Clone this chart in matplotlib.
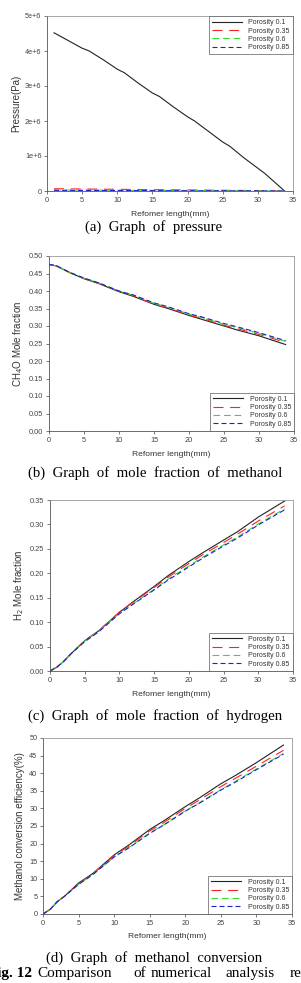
import matplotlib.pyplot as plt

# (a) pressure
x_a = [1, 3, 5, 6, 8, 10, 11, 13, 15, 16, 18, 20, 21, 23, 25, 26, 28, 30, 31, 33.8]
p_a_01 = [4.52, 4.30, 4.08, 4.00, 3.75, 3.48, 3.38, 3.08, 2.80, 2.70, 2.40, 2.12, 2.00,
          1.70, 1.40, 1.28, 0.95, 0.65, 0.50, 0.0]
x_a_low = [1, 10, 20, 30, 33.8]
p_a_035 = [0.065, 0.048, 0.030, 0.012, 0.0]
p_a_06 = [0.030, 0.022, 0.014, 0.006, 0.0]
p_a_085 = [0.018, 0.013, 0.008, 0.004, 0.0]

# (b) methanol mole fraction
x_b = [0, 1, 3, 5, 7, 10, 12, 15, 17, 20, 22, 25, 27, 30, 33.8]
ch4o_01 = [0.475, 0.472, 0.452, 0.435, 0.422, 0.398, 0.385, 0.362, 0.350, 0.330, 0.318, 0.300, 0.288, 0.272, 0.247]
ch4o_035 = [0.475, 0.472, 0.452, 0.436, 0.423, 0.399, 0.387, 0.362, 0.352, 0.331, 0.321, 0.302, 0.292, 0.276, 0.253]
ch4o_06 = [0.475, 0.472, 0.453, 0.436, 0.424, 0.400, 0.388, 0.365, 0.354, 0.334, 0.323, 0.305, 0.295, 0.279, 0.256]
ch4o_085 = [0.476, 0.473, 0.453, 0.437, 0.424, 0.400, 0.389, 0.366, 0.355, 0.335, 0.325, 0.307, 0.297, 0.281, 0.258]

# (c) hydrogen mole fraction
x_c = [0, 1, 2, 3, 5, 7, 10, 12, 15, 17, 20, 22, 25, 27, 30, 33.8]
h2_01 = [0, 0.008, 0.020, 0.035, 0.062, 0.082, 0.120, 0.142, 0.173, 0.195, 0.224, 0.242, 0.268, 0.285, 0.315, 0.348]
h2_035 = [0, 0.008, 0.020, 0.035, 0.062, 0.082, 0.121, 0.141, 0.171, 0.192, 0.220, 0.238, 0.263, 0.280, 0.307, 0.338]
h2_06 = [0, 0.008, 0.020, 0.035, 0.061, 0.081, 0.118, 0.138, 0.167, 0.188, 0.215, 0.233, 0.258, 0.274, 0.301, 0.332]
h2_085 = [0, 0.008, 0.020, 0.035, 0.060, 0.080, 0.117, 0.137, 0.166, 0.186, 0.213, 0.231, 0.256, 0.272, 0.299, 0.330]

# (d) methanol conversion
x_d = [0, 1, 2, 3, 5, 7, 10, 12, 15, 17, 20, 22, 25, 27, 30, 33.8]
conv_01 = [0, 1.3, 3.5, 5.0, 8.8, 11.5, 16.8, 19.5, 24.0, 26.5, 30.5, 33.0, 37.0, 39.3, 43.0, 48.0]
conv_035 = [0, 1.3, 3.5, 5.0, 8.6, 11.4, 16.6, 19.2, 23.6, 26.0, 30.0, 32.4, 36.2, 38.5, 42.0, 46.5]
conv_06 = [0, 1.3, 3.5, 5.0, 8.4, 11.2, 16.2, 18.8, 23.0, 25.4, 29.3, 31.6, 35.3, 37.6, 41.2, 45.6]
conv_085 = [0, 1.3, 3.5, 5.0, 8.4, 11.2, 16.2, 18.7, 22.9, 25.3, 29.2, 31.5, 35.2, 37.4, 41.0, 45.4]

labels = ["Porosity 0.1", "Porosity 0.35", "Porosity 0.6", "Porosity 0.85"]
colors = ["#222222", "#ff2020", "#30dd30", "#2020cc"]
dashes = [None, (9, 6), (6, 3.5), (4.5, 2.7)]

W, H = 301, 983
fig = plt.figure(figsize=(W / 100, H / 100), dpi=100)
plt.rcParams['font.family'] = ['Liberation Sans', 'DejaVu Sans']


def make_axes(left, right, top, bottom):
    return fig.add_axes([left / W, 1 - bottom / H, (right - left) / W, (bottom - top) / H])


def style(ax, ylabel, yticks, yticklabels, legend_loc):
    ax.set_xlim(0, 35)
    ax.set_xticks(range(0, 36, 5))
    ax.set_yticks(yticks)
    ax.set_yticklabels(yticklabels)
    ax.set_ylim(yticks[0], yticks[-1])
    ax.tick_params(labelsize=5.3, length=2, width=0.5, colors="#444444", pad=2)
    for side, s in ax.spines.items():
        s.set_linewidth(0.6)
        s.set_color("#555555" if side in ("left", "bottom") else "#999999")
    ax.set_xlabel("Refomer length(mm)", fontsize=6.1, labelpad=5, color="#333333")
    ax.set_ylabel(ylabel, fontsize=7, labelpad=3, color="#333333")
    leg = ax.legend(loc=legend_loc, fontsize=5, handlelength=4.3, frameon=True,
                    fancybox=False, borderpad=0.45, labelspacing=0.2, handletextpad=0.9,
                    borderaxespad=0.0)
    leg.get_frame().set_edgecolor("#555555")
    leg.get_frame().set_linewidth(0.6)
    for t in leg.get_texts():
        t.set_color("#333333")


def plot_series(ax, xs, ys):
    for x, y, lab, c, d in zip(xs, ys, labels, colors, dashes):
        line, = ax.plot(x, y, color=c, lw=0.8, label=lab)
        if d is not None:
            line.set_dashes(d)


# (a)
ax = make_axes(47, 293, 16, 191)
plot_series(ax, [x_a, x_a_low, x_a_low, x_a_low],
            [[v * 1e6 for v in p_a_01], [v * 1e6 for v in p_a_035],
             [v * 1e6 for v in p_a_06], [v * 1e6 for v in p_a_085]])
style(ax, "Pressure(Pa)", [0, 1e6, 2e6, 3e6, 4e6, 5e6],
      ["0", "1e+6", "2e+6", "3e+6", "4e+6", "5e+6"], "upper right")

# (b)
ax = make_axes(49, 294, 256, 431)
plot_series(ax, [x_b] * 4, [ch4o_01, ch4o_035, ch4o_06, ch4o_085])
yt = [i * 0.05 for i in range(11)]
style(ax, "CH$_4$O Mole fraction", yt, ["%.2f" % v for v in yt], "lower right")

# (c)
ax = make_axes(50, 293, 500, 671)
plot_series(ax, [x_c] * 4, [h2_01, h2_035, h2_06, h2_085])
yt = [i * 0.05 for i in range(8)]
style(ax, "H$_2$ Mole fraction", yt, ["%.2f" % v for v in yt], "lower right")

# (d)
ax = make_axes(43, 292, 738, 914)
plot_series(ax, [x_d] * 4, [conv_01, conv_035, conv_06, conv_085])
yt = list(range(0, 51, 5))
style(ax, "Methanol conversion efficiency(%)", yt, [str(v) for v in yt], "lower right")

serif = ['Liberation Serif', 'DejaVu Serif']
cap = dict(fontsize=10.6, family=serif, ha="center", va="center")
fig.text(154 / W, 1 - 227 / H, "(a)  Graph  of  pressure", **cap)
fig.text(155 / W, 1 - 473 / H, "(b)  Graph  of  mole  fraction  of  methanol", **cap)
fig.text(155 / W, 1 - 716 / H, "(c)  Graph  of  mole  fraction  of  hydrogen", **cap)
fig.text(154 / W, 1 - 958 / H, "(d)  Graph  of  methanol  conversion", **cap)

# figure caption line, cut at both edges as in the source page
fy = 1 - 977 / H
fig.text(32 / W, fy, "Fig. 12", fontsize=11, family=serif, weight="bold", ha="right", va="baseline")
for word, xp in [("Comparison", 37), ("of", 133), ("numerical", 151), ("analysis", 225), ("results", 290)]:
    fig.text(xp / W, fy, word, fontsize=11, family=serif, ha="left", va="baseline")

fig.savefig("out.png", dpi=100)
